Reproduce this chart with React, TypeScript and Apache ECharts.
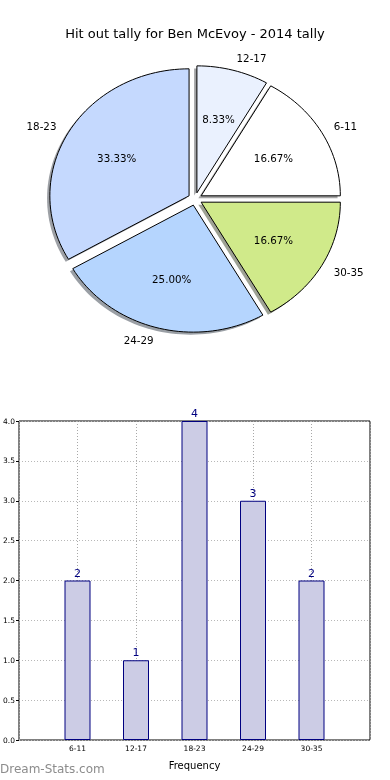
import React, { useEffect, useRef } from "react";
import * as echarts from "echarts";

const titleText = "Hit out tally for Ben McEvoy - 2014 tally";
const categories = ["6-11", "12-17", "18-23", "24-29", "30-35"];
const frequency = [2, 1, 4, 3, 2];
const pieColors = ["#ffffff", "#eaf1fe", "#c5d9fe", "#b5d5fe", "#d0ea8a"];
const xAxisName = "Frequency";
const watermark = "Dream-Stats.com";

const FONT = "DejaVu Sans";

function shadowColor(hex: string) {
  const n = parseInt(hex.slice(1), 16);
  const r = Math.round(((n >> 16) & 255) * 0.3);
  const g = Math.round(((n >> 8) & 255) * 0.3);
  const b = Math.round((n & 255) * 0.3);
  return `rgba(${r},${g},${b},0.5)`;
}

export default function App() {
  const ref = useRef<HTMLDivElement>(null);

  useEffect(() => {
    if (!ref.current) return;
    const chart = echarts.init(ref.current, undefined, { renderer: "svg" });

    const total = frequency.reduce((a, b) => a + b, 0);
    const starts: number[] = [];
    let acc = 0;
    frequency.forEach((v) => {
      starts.push(acc);
      acc += v;
    });

    const explode = 0.05;
    const pctDistance = 0.6;
    const labelDistance = 1.1;

    const renderSlice = (params: any, api: any) => {
      const i = params.dataIndex;
      const v = api.value(2);
      const t1 = (2 * Math.PI * starts[i]) / total;
      const t2 = t1 + (2 * Math.PI * v) / total;
      const mid = (t1 + t2) / 2;
      const ex = explode * Math.cos(mid);
      const ey = explode * Math.sin(mid);
      const steps = Math.max(8, Math.ceil(((t2 - t1) / (2 * Math.PI)) * 180));
      const pts: number[][] = [[ex, ey]];
      for (let k = 0; k <= steps; k++) {
        const t = t1 + ((t2 - t1) * k) / steps;
        pts.push([ex + Math.cos(t), ey + Math.sin(t)]);
      }
      const main = pts.map((p) => api.coord(p));
      const shadow = pts.map((p) => api.coord([p[0] - 0.02, p[1] - 0.02]));
      const pctPos = api.coord([
        ex + pctDistance * Math.cos(mid),
        ey + pctDistance * Math.sin(mid),
      ]);
      const lx = ex + labelDistance * Math.cos(mid);
      const ly = ey + labelDistance * Math.sin(mid);
      const lblPos = api.coord([lx, ly]);
      const pct = ((v / total) * 100).toFixed(2) + "%";
      return {
        type: "group",
        children: [
          {
            type: "polygon",
            z2: 1,
            shape: { points: shadow },
            style: { fill: shadowColor(pieColors[i]), stroke: "none" },
          },
          {
            type: "polygon",
            z2: 10,
            shape: { points: main },
            style: { fill: pieColors[i], stroke: "#000", lineWidth: 1 },
          },
          {
            type: "text",
            z2: 20,
            x: pctPos[0],
            y: pctPos[1],
            style: {
              text: pct,
              fill: "#000",
              font: `10.3px "${FONT}"`,
              align: "center",
              verticalAlign: "middle",
            },
          },
          {
            type: "text",
            z2: 20,
            x: lblPos[0],
            y: lblPos[1],
            style: {
              text: categories[i],
              fill: "#000",
              font: `10.3px "${FONT}"`,
              align: lx > 0 ? "left" : "right",
              verticalAlign: "middle",
            },
          },
        ],
      };
    };

    const rx = 139.5;
    const ry = 127;
    const cx = 195.5;
    const cy = 199;
    const ext = 1.4;

    const barCats = ["", ...categories, ""];
    const barData: any[] = [null, ...frequency, null];

    chart.setOption({
      animation: false,
      textStyle: { fontFamily: FONT },
      title: {
        text: titleText,
        left: "center",
        top: 22,
        textStyle: {
          fontSize: 13,
          fontWeight: "normal",
          color: "#000",
          fontFamily: FONT,
        },
      },
      graphic: [
        {
          type: "text",
          left: 0,
          top: 763,
          style: {
            text: watermark,
            fill: "#8c8c8c",
            font: `12px "${FONT}"`,
          },
        },
      ],
      grid: [
        {
          left: cx - ext * rx,
          top: cy - ext * ry,
          width: 2 * ext * rx,
          height: 2 * ext * ry,
          show: false,
        },
        {
          left: 19,
          top: 421,
          width: 351,
          height: 319,
          show: true,
          borderColor: "#000",
          borderWidth: 1,
          backgroundColor: "transparent",
        },
      ],
      xAxis: [
        { type: "value", gridIndex: 0, min: -ext, max: ext, show: false },
        {
          type: "category",
          gridIndex: 1,
          data: barCats,
          boundaryGap: false,
          name: xAxisName,
          nameLocation: "middle",
          nameGap: 20,
          nameTextStyle: { fontSize: 10, color: "#000", fontFamily: FONT },
          axisLine: { show: false },
          axisTick: { show: false },
          axisLabel: {
            interval: 0,
            fontSize: 7.5,
            color: "#000",
            margin: 4,
            fontFamily: FONT,
          },
          splitLine: {
            show: true,
            interval: 0,
            lineStyle: { color: "#a8a8a8", type: [1, 2], width: 1 },
          },
        },
      ],
      yAxis: [
        { type: "value", gridIndex: 0, min: -ext, max: ext, show: false },
        {
          type: "value",
          gridIndex: 1,
          min: 0,
          max: 4,
          interval: 0.5,
          axisLine: { show: false },
          axisTick: { show: true, length: 3, lineStyle: { color: "#000" } },
          axisLabel: {
            fontSize: 7.5,
            color: "#000",
            margin: 4,
            fontFamily: FONT,
            formatter: (v: number) => v.toFixed(1),
          },
          splitLine: {
            show: true,
            lineStyle: { color: "#b8b8b8", type: [1, 2], width: 1 },
          },
        },
      ],
      series: [
        {
          type: "custom",
          xAxisIndex: 0,
          yAxisIndex: 0,
          clip: false,
          silent: true,
          encode: { x: 0, y: 1 },
          data: frequency.map((v) => [0, 0, v]),
          renderItem: renderSlice,
        },
        {
          type: "bar",
          xAxisIndex: 1,
          yAxisIndex: 1,
          data: barData,
          barWidth: 26,
          itemStyle: {
            color: "#cccce5",
            borderColor: "#000080",
            borderWidth: 1,
          },
          label: {
            show: true,
            position: "top",
            distance: 2,
            color: "#000080",
            fontSize: 11,
            fontFamily: FONT,
          },
        },
      ],
    });

    return () => chart.dispose();
  }, []);

  return (
    <div
      ref={ref}
      style={{ position: "fixed", left: 0, top: 0, width: 390, height: 780 }}
    />
  );
}
